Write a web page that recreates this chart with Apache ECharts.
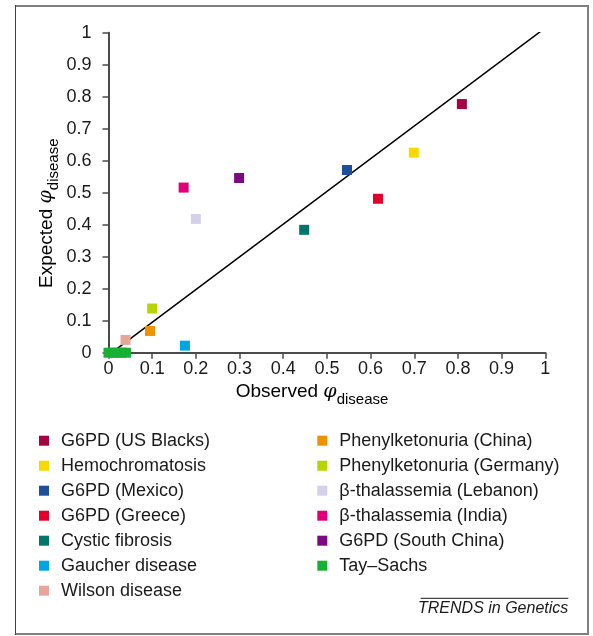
<!DOCTYPE html>
<html><head><meta charset="utf-8">
<script src="https://cdn.jsdelivr.net/npm/echarts@6/dist/echarts.min.js"></script>
<style>html,body{margin:0;padding:0;background:#fff}#c{width:593px;height:636px}</style>
</head><body><div id="c"></div>
<script>
const diseases = ['G6PD (US Blacks)', 'Hemochromatosis', 'G6PD (Mexico)', 'G6PD (Greece)', 'Cystic fibrosis', 'Gaucher disease', 'Wilson disease',
  'Phenylketonuria (China)', 'Phenylketonuria (Germany)', 'β-thalassemia (Lebanon)', 'β-thalassemia (India)', 'G6PD (South China)', 'Tay–Sachs'];
const colors = ['#A5003F', '#F8D800', '#1F4F99', '#E3002A', '#00766A', '#00A6E2', '#E8A69A',
  '#EE9200', '#B8D400', '#D5D1E8', '#E2007A', '#7A0A7E', '#16B035'];
const observedPhi = [[0.809], [0.699], [0.546], [0.617], [0.448], [0.175], [0.039],
  [0.095], [0.100], [0.200], [0.172], [0.299], [0, 0.01, 0.02, 0.03, 0.04]];
const expectedPhi = [[0.777], [0.625], [0.571], [0.481], [0.384], [0.022], [0.040],
  [0.068], [0.138], [0.418], [0.516], [0.546], [0, 0, 0, 0, 0]];
const legendCol1 = diseases.slice(0, 7);
const legendCol2 = diseases.slice(7);
const diagonalX = [0.015, 0.997];
const diagonalY = [0.008, 1.012];

const FONT = '"Liberation Sans", Arial, sans-serif';
const chart = echarts.init(document.getElementById('c'), null, {renderer: 'canvas'});

const scatterSeries = diseases.map((name, i) => ({
  name: name,
  type: 'scatter',
  symbol: 'rect',
  symbolSize: 10,
  clip: false,
  z: 3,
  itemStyle: {color: colors[i], opacity: 1},
  emphasis: {disabled: true},
  data: observedPhi[i].map((x, j) => [x, expectedPhi[i][j]])
}));

const legendCommon = {
  orient: 'vertical',
  icon: 'path://M0,0h10v10h-10z',
  itemWidth: 24,
  itemHeight: 10,
  itemGap: 7,
  selectedMode: false,
  textStyle: {fontFamily: FONT, fontSize: 18, color: '#1a1a1a', lineHeight: 18}
};

const axisCommon = {
  type: 'value', min: 0, max: 1, interval: 0.1,
  splitLine: {show: false},
  axisLine: {show: true, lineStyle: {color: '#4a4a4a', width: 2}},
  axisTick: {show: true, inside: false, length: 6, lineStyle: {color: '#4a4a4a', width: 1.5}},
};

const subRich = {
  m: {fontFamily: FONT, fontSize: 19, color: '#1a1a1a'},
  p: {fontFamily: 'DejaVu Serif, serif', fontSize: 19, fontStyle: 'italic', color: '#1a1a1a'},
  s: {fontFamily: FONT, fontSize: 15, color: '#1a1a1a', padding: [16, 0, 0, 0]}
};

chart.setOption({
  backgroundColor: '#fff',
  animation: false,
  grid: {left: 108.5, top: 32.7, right: 47.7, bottom: 283.3, containLabel: false},
  xAxis: Object.assign({}, axisCommon, {
    axisLabel: {margin: 7, fontFamily: FONT, fontSize: 18, color: '#1a1a1a'}
  }),
  yAxis: Object.assign({}, axisCommon, {
    axisLabel: {margin: 17, fontFamily: FONT, fontSize: 18, color: '#1a1a1a'}
  }),
  legend: [
    Object.assign({}, legendCommon, {data: legendCol1, left: 34, top: 426.7}),
    Object.assign({}, legendCommon, {data: legendCol2, left: 312.3, top: 426.7})
  ],
  series: scatterSeries.concat([{
    name: 'diagonal',
    type: 'line',
    silent: true,
    symbol: 'none',
    z: 2,
    lineStyle: {color: '#000', width: 1.5},
    data: diagonalX.map((x, i) => [x, diagonalY[i]])
  }]),
  graphic: [
    {type: 'polyline', silent: true, shape: {points: [[15, 6], [588, 6], [588, 634], [15, 634]]},
      style: {stroke: '#808080', lineWidth: 2, fill: null}},
    {type: 'line', silent: true, shape: {x1: 15.5, y1: 5, x2: 15.5, y2: 635},
      style: {stroke: '#404040', lineWidth: 1}},
    {type: 'text', silent: true, x: 235.7, y: 392,
      style: {text: '{m|Observed }{p|φ}{s|disease}', rich: subRich, align: 'left', verticalAlign: 'middle', textAlign: 'left', textVerticalAlign: 'middle'}},
    {type: 'text', silent: true, x: 46.3, y: 288, rotation: Math.PI / 2,
      style: {text: '{m|Expected }{p|φ}{s|disease}', rich: subRich, align: 'left', verticalAlign: 'middle', textAlign: 'left', textVerticalAlign: 'middle'}},
    {type: 'line', silent: true, shape: {x1: 420.7, y1: 598.3, x2: 568.3, y2: 598.3},
      style: {stroke: '#1a1a1a', lineWidth: 1}},
    {type: 'text', silent: true, x: 568.3, y: 609,
      style: {text: 'TRENDS in Genetics', fontFamily: FONT, fontSize: 16, fontStyle: 'italic', fill: '#1a1a1a',
        align: 'right', verticalAlign: 'middle', textAlign: 'right', textVerticalAlign: 'middle'}}
  ]
});
</script>
</body></html>
